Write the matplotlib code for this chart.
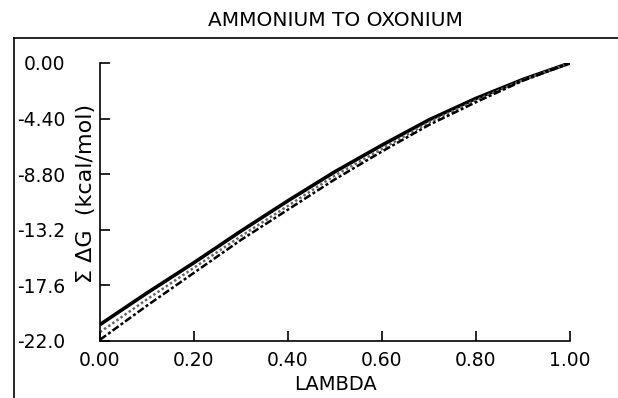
import matplotlib.pyplot as plt
from matplotlib.lines import Line2D

# free energy sums along the lambda path (kcal/mol)
lam = [0.0, 0.1, 0.2, 0.3, 0.4, 0.5, 0.6, 0.7, 0.8, 0.9, 1.0]
dg_forward = [-20.7, -18.2, -15.8, -13.3, -10.9, -8.6, -6.5, -4.5, -2.8, -1.3, 0.0]
dg_average = [-21.3, -18.7, -16.2, -13.7, -11.3, -8.9, -6.8, -4.7, -2.95, -1.35, 0.0]
dg_reverse = [-21.9, -19.2, -16.6, -14.0, -11.6, -9.2, -7.0, -4.9, -3.1, -1.4, 0.0]

yticks = [0.0, -4.4, -8.8, -13.2, -17.6, -22.0]
ytick_labels = ['0.00', '-4.40', '-8.80', '-13.2', '-17.6', '-22.0']
xticks = [0.0, 0.2, 0.4, 0.6, 0.8, 1.0]
xtick_labels = ['0.00', '0.20', '0.40', '0.60', '0.80', '1.00']

plt.rcParams['font.family'] = ['DejaVu Sans']

fig = plt.figure(figsize=(6.18, 3.98), dpi=100)
ax = fig.add_axes([100/618, 1-341/398, 470/618, 278/398])

ax.plot(lam, dg_forward, color='black', lw=2.6, solid_capstyle='butt')
ax.plot(lam, dg_average, color='#666666', lw=1.8, linestyle=(0, (1, 1)))
ax.plot(lam, dg_reverse, color='black', lw=1.8, linestyle=(0, (3, 1, 1.2, 1)))

ax.set_xlim(0, 1)
ax.set_ylim(-22, 0)
ax.set_xticks(xticks)
ax.set_xticklabels(xtick_labels)
ax.set_yticks(yticks)
ax.set_yticklabels(ytick_labels)

for s in ['top', 'right']:
    ax.spines[s].set_visible(False)
for s in ['left', 'bottom']:
    ax.spines[s].set_linewidth(1.2)

ax.tick_params(axis='y', direction='in', length=7, width=1.2, pad=25, labelsize=13.5)
ax.tick_params(axis='x', direction='in', length=7, width=1.2, pad=7, labelsize=13.5)

ax.set_title('AMMONIUM TO OXONIUM', fontsize=14.5, pad=27)
ax.set_xlabel('LAMBDA', fontsize=14, labelpad=4)
ax.set_ylabel('Σ ΔG  (kcal/mol)', fontsize=16)
ax.yaxis.set_label_coords(-0.008, 0.53)

# outer frame around the plot
fig.add_artist(Line2D([14/618, 14/618], [0, 1-38/398], transform=fig.transFigure,
                      color='black', lw=1.2))
fig.add_artist(Line2D([14/618, 1], [1-38/398, 1-38/398], transform=fig.transFigure,
                      color='black', lw=1.2))

fig.savefig('out.png', dpi=100)
